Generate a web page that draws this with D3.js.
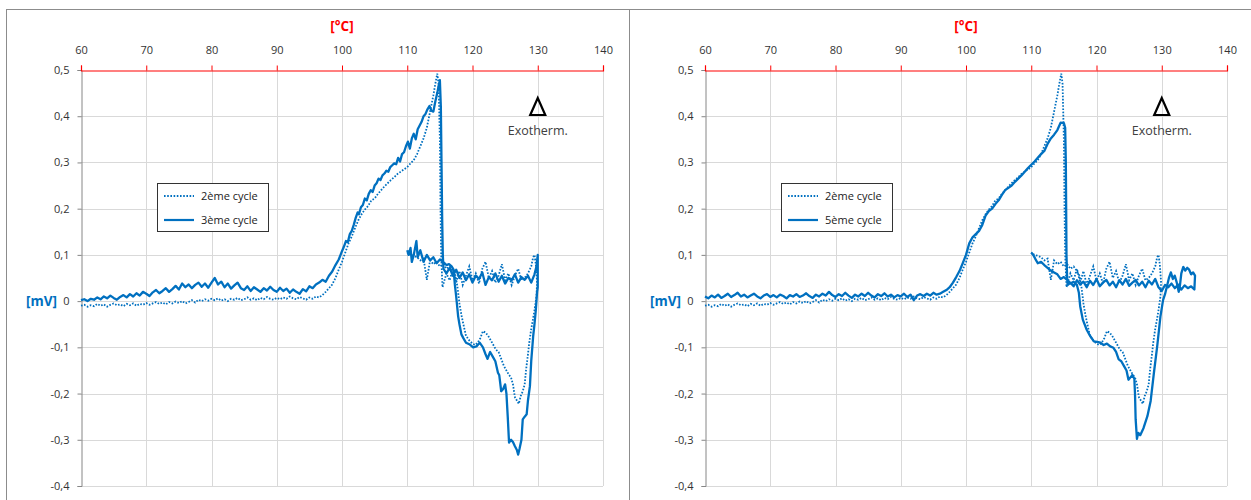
<!DOCTYPE html>
<html lang="fr">
<head>
<meta charset="UTF-8">
<title>Cycles DSC</title>
<script src="https://d3js.org/d3.v7.min.js"></script>
<style>
  body { margin: 0; background: #fff; }
  text { font-family: "Open Sans", "Liberation Sans", sans-serif; }
</style>
</head>
<body>
<div id="chart"></div>
<script>
// ticks
const tempTicks = [60, 70, 80, 90, 100, 110, 120, 130, 140];
const mvTicks = [-0.4, -0.3, -0.2, -0.1, 0, 0.1, 0.2, 0.3, 0.4, 0.5];

// 2eme cycle [°C, mV] (dotted, same on both charts)
const cycle2 = [
  [60,-0.010],[60.5,-0.008],[61,-0.012],[61.5,-0.009],[62,-0.011],[62.5,-0.006],[63,-0.010],[63.5,-0.007],[64,-0.012],[64.5,-0.008],
  [65,-0.005],[65.5,-0.009],[66,-0.007],[66.5,-0.011],[67,-0.006],[67.5,-0.009],[68,-0.005],[68.5,-0.010],[69,-0.006],[69.5,-0.008],
  [70,-0.004],[70.5,-0.008],[71,-0.005],[71.5,-0.002],[72,-0.006],[72.5,-0.003],[73,-0.007],[73.5,-0.002],[74,-0.005],[74.5,-0.001],
  [75,-0.004],[75.5,0.000],[76,-0.005],[76.5,-0.002],[77,0.002],[77.5,-0.003],[78,0.003],[78.5,0.000],[79,0.004],[79.5,0.001],
  [80,0.005],[80.5,0.002],[81,0.006],[81.5,0.001],[82,0.004],[82.5,0.000],[83,0.005],[83.5,0.003],[84,0.007],[84.5,0.002],
  [85,0.004],[85.5,0.008],[86,0.003],[86.5,0.006],[87,0.002],[87.5,0.007],[88,0.004],[88.5,0.009],[89,0.005],[89.5,0.003],
  [90,0.007],[90.5,0.004],[91,0.008],[91.5,0.005],[92,0.010],[92.5,0.006],[93,0.004],[93.5,0.009],[94,0.006],[94.5,0.003],
  [95,0.008],[95.5,0.005],[96,0.010],[96.5,0.008],[97,0.013],[97.5,0.020],[98,0.028],[98.5,0.036],[99,0.050],[99.5,0.068],
  [100,0.085],[100.5,0.105],[101,0.125],[101.5,0.140],[102,0.158],[102.5,0.175],[103,0.188],[103.5,0.198],[104,0.206],[104.5,0.218],
  [105,0.222],[105.5,0.232],[106,0.240],[106.5,0.248],[107,0.255],[107.5,0.262],[108,0.268],[108.5,0.275],[109,0.280],[109.5,0.285],
  [110,0.290],[110.5,0.298],[111,0.305],[111.5,0.318],[112,0.335],[112.5,0.352],[113,0.375],[113.5,0.410],[114,0.445],[114.3,0.470],
  [114.6,0.492],[114.8,0.470],[115.0,0.350],[115.1,0.200],[115.2,0.100],[115.4,0.030],
  [116,0.060],[116.5,0.045],[117,0.070],[117.5,0.040],[118,0.065],[118.5,0.035],[119,0.055],[119.5,0.075],[120,0.045],[120.5,0.060],
  [121,0.038],[121.5,0.070],[122,0.085],[122.5,0.050],[123,0.065],[123.5,0.040],[124,0.055],[124.5,0.080],[125,0.045],[125.5,0.060],
  [126,0.035],[126.5,0.055],[127,0.070],[127.5,0.045],[128,0.050],[128.5,0.060],[129,0.075],[129.3,0.095],[129.5,0.100],[129.7,0.080],
  [129.9,0.040],[129.8,0.010],[129.5,-0.020],[129.2,-0.045],[129.0,-0.060],[128.7,-0.090],[128.5,-0.115],[128.2,-0.150],[128.0,-0.180],
  [127.7,-0.195],[127.4,-0.205],[127.1,-0.222],[126.8,-0.215],[126.5,-0.208],[126.2,-0.180],[125.9,-0.165],[125.6,-0.160],[125.2,-0.150],
  [124.8,-0.140],[124.4,-0.125],[124.0,-0.110],[123.6,-0.105],[123.2,-0.095],[122.8,-0.085],[122.4,-0.075],[122.0,-0.068],[121.6,-0.065],
  [121.2,-0.080],[120.8,-0.090],[120.4,-0.095],[120.0,-0.092],[119.5,-0.085],[119.0,-0.075],[118.6,-0.050],[118.3,-0.030],[118.0,-0.005],
  [117.7,0.030],[117.4,0.055],[117.0,0.065],[116.5,0.075],[116.0,0.070],[115.5,0.080],[115.0,0.075],[114.5,0.085],[114.0,0.080],
  [113.5,0.088],[113.0,0.046],[112.5,0.092],[112.0,0.088],[111.5,0.095],[111.0,0.098],[110.5,0.100],[110.0,0.105]
];

// 3eme cycle (solid, left chart)
const cycle3 = [
  [60,0.002],[60.5,0.004],[61,0.000],[61.5,0.005],[62,0.003],[62.5,0.008],[63,0.004],[63.5,0.010],[64,0.006],[64.5,0.012],
  [65,0.007],[65.5,0.003],[66,0.009],[66.5,0.013],[67,0.008],[67.5,0.015],[68,0.010],[68.5,0.017],[69,0.012],[69.5,0.020],
  [70,0.016],[70.5,0.011],[71,0.019],[71.5,0.024],[72,0.017],[72.5,0.022],[73,0.028],[73.5,0.020],[74,0.026],[74.5,0.033],
  [75,0.025],[75.5,0.038],[76,0.030],[76.5,0.036],[77,0.028],[77.5,0.035],[78,0.040],[78.5,0.031],[79,0.038],[79.5,0.029],
  [80,0.040],[80.5,0.050],[81,0.036],[81.5,0.042],[82,0.030],[82.5,0.038],[83,0.027],[83.5,0.034],[84,0.040],[84.5,0.028],
  [85,0.024],[85.5,0.032],[86,0.022],[86.5,0.030],[87,0.025],[87.5,0.020],[88,0.028],[88.5,0.023],[89,0.031],[89.5,0.024],
  [90,0.020],[90.5,0.029],[91,0.022],[91.5,0.027],[92,0.018],[92.5,0.025],[93,0.020],[93.5,0.016],[94,0.026],[94.5,0.021],
  [95,0.032],[95.5,0.028],[96,0.036],[96.5,0.040],[97,0.046],[97.5,0.042],[98,0.055],[98.5,0.064],[99,0.078],[99.5,0.090],
  [100,0.108],[100.3,0.118],[100.6,0.130],[100.9,0.128],[101.2,0.145],[101.5,0.152],[101.8,0.165],[102.1,0.180],[102.4,0.192],
  [102.6,0.188],[102.9,0.203],[103.2,0.208],[103.5,0.222],[103.8,0.218],[104.1,0.232],[104.4,0.240],[104.7,0.236],[105.0,0.250],
  [105.3,0.255],[105.6,0.265],[105.9,0.262],[106.2,0.272],[106.5,0.276],[106.8,0.282],[107.1,0.280],[107.4,0.290],[107.7,0.294],
  [108.0,0.298],[108.3,0.296],[108.6,0.310],[108.9,0.302],[109.2,0.318],[109.5,0.322],[109.8,0.335],[110.1,0.345],[110.4,0.330],
  [110.7,0.352],[111.0,0.362],[111.3,0.350],[111.6,0.372],[111.9,0.380],[112.2,0.388],[112.5,0.400],[112.8,0.405],[113.1,0.415],
  [113.4,0.422],[113.7,0.412],[114.0,0.410],[114.3,0.432],[114.6,0.450],[114.8,0.465],
  [115.0,0.478],[115.15,0.420],[115.25,0.300],[115.35,0.180],[115.45,0.100],[115.55,0.070],
  [116,0.060],[116.5,0.072],[117,0.055],[117.5,0.068],[118,0.050],[118.5,0.062],[119,0.045],[119.5,0.058],[120,0.040],[120.5,0.055],
  [121,0.048],[121.5,0.062],[122,0.035],[122.5,0.052],[123,0.045],[123.5,0.060],[124,0.042],[124.5,0.055],[125,0.038],[125.5,0.050],
  [126,0.045],[126.5,0.058],[127,0.040],[127.5,0.052],[128,0.046],[128.5,0.055],[129,0.040],[129.5,0.058],[129.8,0.075],[130.0,0.100],
  [130.0,0.030],[129.9,0.020],[129.7,-0.020],[129.5,-0.050],[129.3,-0.076],[129.0,-0.130],[128.8,-0.184],[128.5,-0.215],[128.3,-0.245],
  [128.0,-0.250],[127.7,-0.256],[127.5,-0.300],[127.2,-0.320],[127.0,-0.332],[126.8,-0.322],[126.5,-0.314],[126.2,-0.305],[125.9,-0.300],
  [125.6,-0.306],[125.4,-0.250],[125.2,-0.200],[125.0,-0.180],[124.7,-0.190],[124.4,-0.195],[124.1,-0.160],[123.9,-0.155],[123.5,-0.130],
  [123.1,-0.120],[122.7,-0.110],[122.3,-0.125],[122.0,-0.115],[121.6,-0.100],[121.1,-0.090],[120.6,-0.098],[120.1,-0.100],[119.6,-0.094],
  [119.0,-0.090],[118.6,-0.080],[118.3,-0.072],[118.0,-0.050],[117.8,-0.033],[117.5,0.010],[117.3,0.035],[117.1,0.068],[116.8,0.075],
  [116.4,0.080],[116.0,0.078],[115.5,0.085],[115.0,0.090],[114.5,0.082],[114.0,0.095],[113.5,0.088],[113.0,0.100],[112.5,0.085],
  [112.0,0.110],[111.6,0.095],[111.4,0.130],[111.0,0.100],[110.7,0.085],[110.5,0.115],[110.2,0.100],[110.0,0.110]
];

// 5eme cycle (solid, right chart)
const cycle5 = [
  [60,0.010],[60.5,0.006],[61,0.012],[61.5,0.008],[62,0.014],[62.5,0.007],[63,0.011],[63.5,0.016],[64,0.009],[64.5,0.013],
  [65,0.018],[65.5,0.010],[66,0.014],[66.5,0.008],[67,0.012],[67.5,0.016],[68,0.010],[68.5,0.006],[69,0.012],[69.5,0.015],
  [70,0.009],[70.5,0.013],[71,0.008],[71.5,0.014],[72,0.011],[72.5,0.006],[73,0.013],[73.5,0.010],[74,0.015],[74.5,0.009],
  [75,0.012],[75.5,0.017],[76,0.011],[76.5,0.007],[77,0.014],[77.5,0.010],[78,0.016],[78.5,0.012],[79,0.020],[79.5,0.013],
  [80,0.009],[80.5,0.015],[81,0.011],[81.5,0.018],[82,0.012],[82.5,0.007],[83,0.014],[83.5,0.010],[84,0.016],[84.5,0.011],
  [85,0.018],[85.5,0.012],[86,0.008],[86.5,0.015],[87,0.011],[87.5,0.017],[88,0.010],[88.5,0.014],[89,0.008],[89.5,0.013],
  [90,0.010],[90.5,0.016],[91,0.009],[91.5,0.014],[92,0.002],[92.5,0.012],[93,0.015],[93.5,0.011],[94,0.016],[94.5,0.012],
  [95,0.018],[95.5,0.014],[96,0.016],[96.5,0.020],[97,0.024],[97.5,0.030],[98,0.040],[98.5,0.052],[99,0.065],[99.5,0.082],
  [100,0.100],[100.5,0.125],[101,0.138],[101.5,0.145],[102,0.152],[102.5,0.165],[103,0.185],[103.5,0.195],[104,0.200],[104.5,0.210],
  [105,0.218],[105.5,0.230],[106,0.240],[106.5,0.245],[107,0.250],[107.5,0.258],[108,0.265],[108.5,0.272],[109,0.280],[109.5,0.288],
  [110,0.295],[110.5,0.302],[111,0.310],[111.5,0.318],[112,0.325],[112.5,0.340],[113,0.352],[113.5,0.360],[114,0.370],[114.5,0.386],
  [115.0,0.385],[115.2,0.375],[115.3,0.300],[115.35,0.200],[115.4,0.100],[115.5,0.050],[115.6,0.035],
  [116,0.040],[116.5,0.032],[117,0.045],[117.5,0.036],[118,0.042],[118.5,0.030],[119,0.044],[119.5,0.035],[120,0.048],[120.5,0.032],
  [121,0.040],[121.5,0.046],[122,0.034],[122.5,0.042],[123,0.030],[123.5,0.045],[124,0.036],[124.5,0.048],[125,0.033],[125.5,0.040],
  [126,0.046],[126.5,0.034],[127,0.042],[127.5,0.030],[128,0.044],[128.5,0.036],[129,0.048],[129.5,0.030],[130,0.022],[130.5,0.035],
  [131,0.030],[131.5,0.038],[132,0.028],[132.5,0.036],[133,0.025],[133.5,0.034],[134,0.028],[134.5,0.032],[135,0.025],
  [135.1,0.055],[134.8,0.062],[134.5,0.058],[134.2,0.068],[133.9,0.072],[133.6,0.066],[133.3,0.074],[133.0,0.060],[132.8,0.035],
  [132.6,0.020],[132.3,0.040],[132.0,0.055],[131.7,0.048],[131.4,0.062],[131.1,0.050],[130.8,0.032],[130.5,0.015],[130.2,0.002],
  [129.8,-0.033],[129.3,-0.098],[128.8,-0.155],[128.3,-0.216],[127.8,-0.249],[127.2,-0.275],[126.7,-0.290],[126.4,-0.285],[126.2,-0.298],
  [126.0,-0.256],[125.9,-0.200],[125.8,-0.168],[125.5,-0.160],[125.2,-0.165],[124.9,-0.170],[124.6,-0.150],[124.2,-0.140],[123.8,-0.130],
  [123.4,-0.126],[123.0,-0.110],[122.6,-0.101],[122.1,-0.098],[121.6,-0.092],[121.1,-0.095],[120.6,-0.090],[120.1,-0.088],[119.6,-0.087],
  [119.0,-0.075],[118.5,-0.062],[117.9,-0.040],[117.5,-0.011],[117.3,0.018],[117.0,0.035],[116.5,0.042],[116.0,0.038],[115.5,0.046],
  [115.0,0.052],[114.5,0.048],[114.0,0.058],[113.5,0.062],[113.0,0.066],[112.5,0.072],[112.0,0.078],[111.5,0.085],[111.0,0.082],
  [110.6,0.092],[110.3,0.100],[110.0,0.105]
];

const blue = "#0070C0";
const panels = [
  { left: 81, names: ["2ème cycle", "3ème cycle"], series: [cycle2, cycle3] },
  { left: 705, names: ["2ème cycle", "5ème cycle"], series: [cycle2, cycle5] }
];
const plotW = 522, plotTop = 70, plotBottom = 486;

const svg = d3.select("#chart").append("svg")
  .attr("width", 1251).attr("height", 500);

// panel frames
svg.append("line").attr("x1", 6).attr("x2", 1251).attr("y1", 9.5).attr("y2", 9.5)
  .attr("stroke", "#8c8c8c");
[6.5, 629.5].forEach(x => {
  svg.append("line").attr("x1", x).attr("x2", x).attr("y1", 9).attr("y2", 500)
    .attr("stroke", "#8c8c8c");
});

// excel style labels: comma decimals, plain hyphen
const fmt = v => String(+v.toFixed(1)).replace(".", ",");

panels.forEach(p => {
  const x = d3.scaleLinear().domain([60, 140]).range([p.left, p.left + plotW]);
  const y = d3.scaleLinear().domain([-0.4, 0.5]).range([plotBottom, plotTop]);
  const g = svg.append("g");

  // grid
  g.selectAll(".hg").data(mvTicks.filter(d => d < 0.45)).enter().append("line")
    .attr("x1", x(60)).attr("x2", x(140))
    .attr("y1", d => Math.round(y(d)) + 0.5).attr("y2", d => Math.round(y(d)) + 0.5)
    .attr("stroke", "#d9d9d9");
  g.selectAll(".vg").data(tempTicks.slice(1)).enter().append("line")
    .attr("x1", d => Math.round(x(d)) + 0.5).attr("x2", d => Math.round(x(d)) + 0.5)
    .attr("y1", plotTop).attr("y2", plotBottom)
    .attr("stroke", "#d9d9d9");

  // y axis
  const ya = g.append("g").attr("transform", `translate(${Math.round(x(60)) + 0.5},0)`)
    .call(d3.axisLeft(y).tickValues(mvTicks).tickSize(4).tickPadding(8).tickFormat(fmt));
  ya.select(".domain").attr("stroke", "#868686");
  ya.selectAll(".tick line").attr("stroke", "#868686");
  ya.selectAll("text").attr("fill", "#333").style("font-size", "11px")
    .style("font-family", "'Open Sans', sans-serif");

  // top axis (red)
  const xa = g.append("g").attr("transform", `translate(0,${Math.round(y(0.5)) + 0.5})`)
    .call(d3.axisTop(x).tickValues(tempTicks).tickSize(5).tickSizeOuter(5).tickPadding(12));
  xa.select(".domain").attr("stroke", "#ff0000").attr("stroke-width", 1.2);
  xa.selectAll(".tick line").attr("stroke", "#ff0000");
  xa.selectAll("text").attr("fill", "#333").style("font-size", "11px")
    .style("font-family", "'Open Sans', sans-serif");

  // axis titles
  g.append("text").attr("x", x(100)).attr("y", 31).attr("text-anchor", "middle")
    .attr("fill", "#ff0000").style("font-weight", "bold").style("font-size", "13.5px").text("[°C]");
  g.append("text").attr("x", x(60) - 24).attr("y", y(0) + 5).attr("text-anchor", "end")
    .attr("fill", blue).style("font-weight", "bold").style("font-size", "13.5px").text("[mV]");

  // curves
  const line = d3.line().x(d => x(d[0])).y(d => y(d[1]));
  g.append("path").datum(p.series[0]).attr("d", line)
    .attr("fill", "none").attr("stroke", blue).attr("stroke-width", 1.8)
    .attr("stroke-dasharray", "1.6,1.6");
  g.append("path").datum(p.series[1]).attr("d", line)
    .attr("fill", "none").attr("stroke", blue).attr("stroke-width", 2.3)
    .attr("stroke-linejoin", "round");

  // exotherm marker
  const tx = x(130), ty = y(0.42);
  g.append("path")
    .attr("d", `M${tx},${ty - 9} L${tx + 7.5},${ty + 8} L${tx - 7.5},${ty + 8} Z`)
    .attr("fill", "none").attr("stroke", "#000").attr("stroke-width", 2.2);
  g.append("text").attr("x", tx).attr("y", y(0.36)).attr("text-anchor", "middle")
    .attr("fill", "#404040").style("font-size", "12.5px").text("Exotherm.");

  // legend
  const lg = g.append("g").attr("transform", `translate(${p.left + 76},183)`);
  lg.append("rect").attr("x", 0.5).attr("y", 0.5).attr("width", 111).attr("height", 48)
    .attr("fill", "#fff").attr("stroke", "#333");
  p.names.forEach((n, i) => {
    lg.append("line").attr("x1", 7).attr("x2", 37).attr("y1", 13 + i * 24).attr("y2", 13 + i * 24)
      .attr("stroke", blue).attr("stroke-width", i === 0 ? 1.8 : 2.2)
      .attr("stroke-dasharray", i === 0 ? "1.6,1.6" : null);
    lg.append("text").attr("x", 44).attr("y", 17 + i * 24)
      .attr("fill", "#222").style("font-size", "11px").text(n);
  });
});
</script>
</body>
</html>
